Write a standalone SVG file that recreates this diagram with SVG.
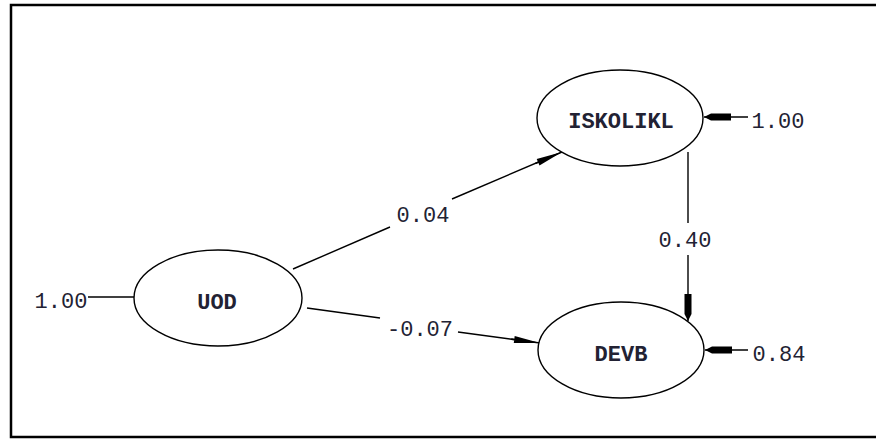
<svg xmlns="http://www.w3.org/2000/svg" width="876" height="440" viewBox="0 0 876 440">
  <style>
    .frame { fill: #ffffff; stroke: #000000; stroke-width: 2.5; }
    .node ellipse { fill: #ffffff; stroke: #000000; stroke-width: 1.4; }
    .node text { font-family: "Liberation Mono", "Courier New", monospace; font-size: 22px; font-weight: bold; fill: #222233; text-anchor: middle; }
    .lbl { font-family: "Liberation Mono", "Courier New", monospace; font-size: 22px; fill: #222233; text-anchor: middle; }
    .edge { fill: none; stroke: #000000; stroke-width: 1.4; }
  </style>
  <defs>
    <marker id="arrow" markerWidth="28" markerHeight="10" refX="27" refY="5" orient="auto" markerUnits="userSpaceOnUse">
      <path d="M0,1.5 L20,1.5 L27,5 L20,8.5 L0,8.5 Z" fill="#000000"/>
    </marker>
    <marker id="tri" markerWidth="30" markerHeight="10" refX="29" refY="5" orient="auto" markerUnits="userSpaceOnUse">
      <path d="M0,4.2 L29,5 L0,5.8 Z M3,1.5 L29,5 L3,8.5 Z" fill="#000000"/>
    </marker>
  </defs>

  <rect class="frame" x="11" y="5" width="880" height="432"/>

  <g id="connectors">
    <!-- UOD -> ISKOLIKL (0.04) -->
    <line class="edge" x1="293" y1="269" x2="390" y2="227"/>
    <line class="edge" x1="452" y1="199" x2="562" y2="152" marker-end="url(#tri)"/>
    <!-- UOD -> DEVB (-0.07) -->
    <line class="edge" x1="307" y1="308" x2="380" y2="318"/>
    <line class="edge" x1="458" y1="332" x2="540" y2="343" marker-end="url(#tri)"/>
    <!-- ISKOLIKL -> DEVB (0.40) -->
    <line class="edge" x1="688" y1="152" x2="688" y2="223"/>
    <line class="edge" x1="688" y1="255" x2="688" y2="321" marker-end="url(#arrow)"/>
    <!-- error terms -->
    <line class="edge" x1="88" y1="297" x2="134" y2="297"/>
    <line class="edge" x1="748" y1="117" x2="704" y2="117" marker-end="url(#arrow)"/>
    <line class="edge" x1="748" y1="350" x2="705" y2="350" marker-end="url(#arrow)"/>
  </g>

  <g id="UOD" class="node">
    <ellipse cx="218" cy="298" rx="84" ry="48"/>
    <text x="217" y="309">UOD</text>
  </g>
  <g id="ISKOLIKL" class="node">
    <ellipse cx="620" cy="118" rx="83" ry="48"/>
    <text x="621" y="128">ISKOLIKL</text>
  </g>
  <g id="DEVB" class="node">
    <ellipse cx="621" cy="350" rx="83" ry="48"/>
    <text x="621" y="361">DEVB</text>
  </g>

  <g id="labels">
    <text class="lbl" x="61" y="308">1.00</text>
    <text class="lbl" x="778" y="128">1.00</text>
    <text class="lbl" x="779" y="361">0.84</text>
    <text class="lbl" x="423" y="222">0.04</text>
    <text class="lbl" x="420" y="336">-0.07</text>
    <text class="lbl" x="685" y="247">0.40</text>
  </g>
</svg>
